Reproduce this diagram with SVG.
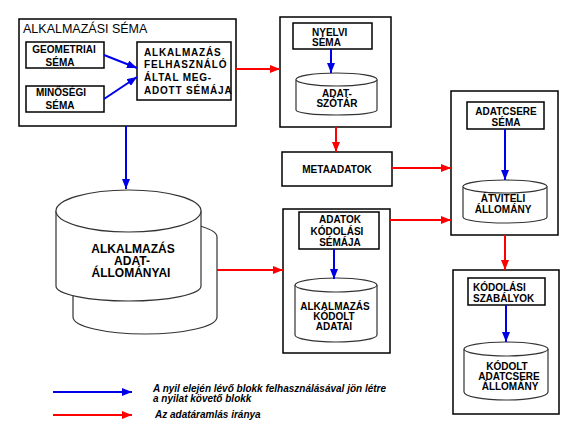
<svg xmlns="http://www.w3.org/2000/svg" width="561" height="421" viewBox="0 0 561 421">
<style>
.box{fill:#fff;stroke:#000;stroke-width:1.5}
.cyl{fill:#fff;stroke:#333;stroke-width:1.2}
.t{font-family:"Liberation Sans",Arial,sans-serif;font-weight:bold;font-size:10px;fill:#000}
.c{text-anchor:middle}
.ls{letter-spacing:0.8px}
.title{font-family:"Liberation Sans",Arial,sans-serif;font-size:12.5px;fill:#000}
.big{font-family:"Liberation Sans",Arial,sans-serif;font-weight:bold;font-size:12px;text-anchor:middle}
.leg{font-family:"Liberation Sans",Arial,sans-serif;font-weight:bold;font-style:italic;font-size:10px}
.b{stroke:#0000e6;stroke-width:2;fill:none;marker-end:url(#ab)}
.r{stroke:#f00;stroke-width:2;fill:none;marker-end:url(#ar)}
</style>
<defs>
<marker id="ab" markerUnits="userSpaceOnUse" markerWidth="10" markerHeight="8" refX="10" refY="4" orient="auto"><path d="M0,0 L10,4 L0,8 Z" fill="#0000e6"/></marker>
<marker id="ar" markerUnits="userSpaceOnUse" markerWidth="10" markerHeight="8" refX="10" refY="4" orient="auto"><path d="M0,0 L10,4 L0,8 Z" fill="#f00"/></marker>
</defs>
<rect width="561" height="421" fill="#fff"/>

<g id="alkalmazasi-sema">
<rect class="box" x="19" y="19" width="217" height="107"/>
<text class="title" x="23" y="33">ALKALMAZÁSI SÉMA</text>
</g>
<g id="geometriai">
<rect class="box" x="26" y="42" width="78" height="26"/>
<text class="t c" x="64" y="53">GEOMETRIAI</text>
<text class="t c" x="60" y="66">SÉMA</text>
</g>
<g id="minosegi">
<rect class="box" x="26" y="86" width="78" height="26"/>
<text class="t c" x="61" y="96">MINŐSÉGI</text>
<text class="t c" x="60" y="109">SÉMA</text>
</g>
<g id="felhasznaloi">
<rect class="box" x="137" y="42" width="94" height="58"/>
<text class="t ls" x="144" y="56">ALKALMAZÁS</text>
<text class="t ls" x="144" y="68">FELHASZNÁLÓ</text>
<text class="t ls" x="144" y="81">ÁLTAL MEG-</text>
<text class="t ls" x="144" y="94">ADOTT SÉMÁJA</text>
</g>

<g id="nyelvi-blokk">
<rect class="box" x="280" y="17" width="111" height="110"/>
<rect class="box" x="293" y="23" width="79" height="26"/>
<text class="t" x="312" y="36">NYELVI</text>
<text class="t" x="312" y="46">SÉMA</text>
<path class="cyl" d="M296,79.5 A40.5,6.5 0 0,1 377,79.5 L377,110 A40.5,5 0 0,1 296,110 Z"/>
<path class="cyl" d="M296,79.5 A40.5,6.5 0 0,0 377,79.5"/>
<text class="t c" x="337" y="97">ADAT-</text>
<text class="t c" x="337" y="107">SZÓTÁR</text>
</g>

<g id="metaadatok">
<rect class="box" x="282" y="152" width="110" height="34"/>
<text class="t c" x="337" y="173">METAADATOK</text>
</g>

<g id="adatcsere-blokk">
<rect class="box" x="451" y="91" width="107" height="144"/>
<rect class="box" x="467" y="102" width="77" height="27"/>
<text class="t c" x="506" y="115">ADATCSERE</text>
<text class="t c" x="506" y="126">SÉMA</text>
<path class="cyl" d="M463,186.5 A42,6.5 0 0,1 547,186.5 L547,217 A42,6 0 0,1 463,217 Z"/>
<path class="cyl" d="M463,186.5 A42,6.5 0 0,0 547,186.5"/>
<text class="t c" x="503" y="202">ÁTVITELI</text>
<text class="t c" x="503" y="213">ÁLLOMÁNY</text>
</g>

<g id="adatallomanyai">
<path class="cyl" d="M73,237 A72,17 0 0,1 217,237 L217,317 A72,17 0 0,1 73,317 Z"/>
<path class="cyl" d="M56,211 A72.5,21 0 0,1 201,211 L201,286 A72.5,15 0 0,1 56,286 Z"/>
<path class="cyl" d="M56,211 A72.5,21 0 0,0 201,211"/>
<text class="big" x="133" y="253">ALKALMAZÁS</text>
<text class="big" x="132" y="265">ADAT-</text>
<text class="big" x="131" y="277">ÁLLOMÁNYAI</text>
</g>

<g id="adatok-kodolasi">
<rect class="box" x="283" y="209" width="107" height="144"/>
<rect class="box" x="299" y="212" width="80" height="37"/>
<text class="t c" x="340" y="223">ADATOK</text>
<text class="t c" x="337" y="235">KÓDOLÁSI</text>
<text class="t c" x="340" y="246">SÉMÁJA</text>
<path class="cyl" d="M295,285 A41,7 0 0,1 377,285 L377,335 A41,7 0 0,1 295,335 Z"/>
<path class="cyl" d="M295,285 A41,7 0 0,0 377,285"/>
<text class="t c" x="335" y="310">ALKALMAZÁS</text>
<text class="t c" x="334" y="320">KÓDOLT</text>
<text class="t c" x="334" y="330">ADATAI</text>
</g>

<g id="kodolasi-szabalyok">
<rect class="box" x="453" y="270" width="106" height="144"/>
<rect class="box" x="468" y="278" width="77" height="27"/>
<text class="t" x="473" y="291">KÓDOLÁSI</text>
<text class="t" x="473" y="302">SZABÁLYOK</text>
<path class="cyl" d="M464,349 A42,7 0 0,1 548,349 L548,392 A42,8 0 0,1 464,392 Z"/>
<path class="cyl" d="M464,349 A42,7 0 0,0 548,349"/>
<text class="t c" x="507" y="370">KÓDOLT</text>
<text class="t c" x="509" y="380">ADATCSERE</text>
<text class="t c" x="510" y="390">ÁLLOMÁNY</text>
</g>

<g id="connectors">
<line class="b" x1="104" y1="55" x2="137" y2="68"/>
<line class="b" x1="104" y1="99" x2="137" y2="77"/>
<line class="b" x1="126" y1="126" x2="126" y2="189"/>
<line class="b" x1="331" y1="49" x2="331" y2="73"/>
<line class="b" x1="505" y1="129" x2="505" y2="180"/>
<line class="b" x1="334" y1="249" x2="334" y2="279"/>
<line class="b" x1="506" y1="305" x2="506" y2="342"/>
<line class="r" x1="236" y1="69" x2="280" y2="69"/>
<line class="r" x1="336" y1="127" x2="336" y2="152"/>
<line class="r" x1="392" y1="168" x2="451" y2="168"/>
<line class="r" x1="390" y1="220" x2="451" y2="220"/>
<line class="r" x1="217" y1="270" x2="283" y2="270"/>
<line class="r" x1="505" y1="235" x2="505" y2="270"/>
</g>

<g id="legend">
<line class="b" x1="53" y1="392" x2="132" y2="392"/>
<line class="r" x1="53" y1="415" x2="132" y2="415"/>
<text class="leg" x="153" y="392">A nyil elején lévő blokk felhasználásával jön létre</text>
<text class="leg" x="153" y="402">a nyilat követő blokk</text>
<text class="leg" x="155" y="418">Az adatáramlás iránya</text>
</g>
</svg>
